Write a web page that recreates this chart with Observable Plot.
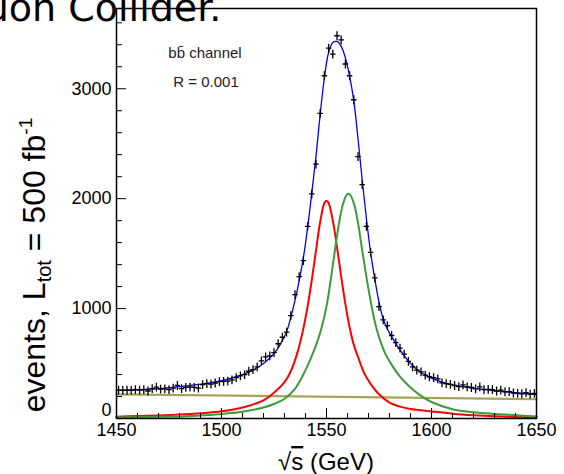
<!DOCTYPE html>
<html><head><meta charset="utf-8">
<script src="https://cdn.jsdelivr.net/npm/d3@7"></script>
<script src="https://cdn.jsdelivr.net/npm/@observablehq/plot@0.6"></script>
<style>
body{margin:0;background:#fff;}
#wrap{position:relative;width:564px;height:474px;overflow:hidden;background:#fff;}
#wrap svg{position:absolute;left:0;top:0;}
#title{position:absolute;left:-48px;top:-11px;font-family:"DejaVu Sans",sans-serif;font-size:38px;line-height:1;white-space:nowrap;color:#000;z-index:2;}
</style></head><body>
<div id="wrap"><div id="title">Muon Collider.</div></div>
<script>
// measured points (bin centres, GeV) and event counts
const dataX = [1451,1453,1455,1457,1459,1461,1463,1465,1467,1469,1471,1473,1475,1477,1479,1481,1483,1485,1487,1489,
1491,1493,1495,1497,1499,1501,1503,1505,1507,1509,1511,1513,1515,1517,1519,1521,1523,1525,1527,1529,
1531,1533,1535,1537,1539,1541,1543,1545,1547,1549,1551,1553,1555,1557,1559,1561,1563,1565,1567,1569,
1571,1573,1575,1577,1579,1581,1583,1585,1587,1589,1591,1593,1595,1597,1599,1601,1603,1605,1607,1609,
1611,1613,1615,1617,1619,1621,1623,1625,1627,1629,1631,1633,1635,1637,1639,1641,1643,1645,1647,1649];
const dataY = [258,255,257,256,262,258,262,250,272,285,268,270,262,276,300,272,283,286,283,276,
308,318,313,323,335,338,340,352,372,388,400,430,445,470,525,560,570,600,680,739,
785,936,1127,1291,1436,1748,2043,2315,2775,3118,3370,3315,3482,3445,3225,3118,2900,2382,2127,1748,
1512,1279,1018,897,845,755,690,640,585,520,470,440,425,395,380,372,360,325,318,310,
300,290,305,288,282,270,288,262,265,262,250,258,242,245,232,228,225,235,222,228];

// fitted total (blue)
const totalX = [1450,1460,1470,1480,1490,1500,1505,1510,1515,1520,1525,1528,1531,1533,1535,1537,1539,1541,1543,1545,1547,1549,1551,1553,1555,1557,1559,1561,1563,1565,1567,1569,1571,1573,1575,1577,1579,1581,1585,1590,1595,1600,1605,1610,1620,1630,1640,1650];
const totalY = [255,262,272,290,312,345,370,400,440,500,590,675,790,920,1075,1255,1465,1735,2055,2385,2770,3100,3330,3420,3430,3385,3280,3115,2890,2545,2170,1820,1510,1270,1060,905,815,745,625,500,418,368,332,306,276,254,235,218];

// first resonance (red)
const redX = [1450,1460,1470,1480,1490,1500,1510,1520,1525,1530,1533,1536,1539,1541,1543,1545,1547,1549,1550,1551,1553,1555,1557,1559,1561,1563,1565,1568,1571,1575,1580,1585,1590,1600,1610,1620,1630,1640,1650];
const redY = [17,22,28,36,48,65,100,165,235,330,430,590,820,1020,1260,1530,1790,1960,1982,1960,1800,1560,1290,1040,830,670,560,410,315,220,145,108,86,64,44,30,20,14,10];

// second resonance (green)
const greenX = [1450,1460,1470,1480,1490,1500,1510,1520,1525,1530,1535,1540,1543,1546,1548,1550,1552,1554,1556,1558,1560,1561,1563,1565,1567,1569,1571,1573,1575,1578,1581,1585,1589,1594,1600,1610,1620,1630,1640,1650];
const greenY = [10,12,15,19,27,42,62,100,132,180,270,440,570,720,850,1020,1260,1530,1780,1960,2043,2040,1960,1780,1530,1290,1070,880,740,590,490,380,300,220,150,85,57,42,30,18];

// background (olive)
const bkgX = [1450,1650];
const bkgY = [220,175];

// axis ticks
const xMajor = [1450,1500,1550,1600,1650];
const xMinor = [1460,1470,1480,1490,1510,1520,1530,1540,1560,1570,1580,1590,1610,1620,1630,1640];
const yMajor = [0,1000,2000,3000];
const yMinor = [200,400,600,800,1200,1400,1600,1800,2200,2400,2600,2800,3200,3400,3600];
const yLabels = [1000,2000,3000];
const yZeroLabel = [0];

const pts = dataX.map((x,i)=>({x, y:dataY[i]}));
const tot = totalX.map((x,i)=>({x, y:totalY[i]}));
const red = redX.map((x,i)=>({x, y:redY[i]}));
const grn = greenX.map((x,i)=>({x, y:greenY[i]}));
const bkg = bkgX.map((x,i)=>({x, y:bkgY[i]}));

const cross = {draw(ctx, size){ const r = Math.sqrt(size/Math.PI); ctx.moveTo(-r*0.62,0); ctx.lineTo(r*0.62,0); ctx.moveTo(0,-r); ctx.lineTo(0,r); }};

const font = "'Liberation Sans', Arial, Helvetica, sans-serif";
const W=564, H=474, mL=116, mR=28, mT=8, mB=56;
const fw = W-mL-mR, fh = H-mT-mB;

const chart = Plot.plot({
  width: W, height: H, marginLeft: mL, marginRight: mR, marginTop: mT, marginBottom: mB,
  style: {fontFamily: font, background: "transparent", color: "black"},
  x: {domain: [1450,1650]},
  y: {domain: [0,3730]},
  marks: [
    Plot.line(bkg, {x:"x", y:"y", stroke:"#a6a45a", strokeWidth:2.2}),
    Plot.line(red, {x:"x", y:"y", stroke:"#ff0000", strokeWidth:2, curve:"catmull-rom"}),
    Plot.line(grn, {x:"x", y:"y", stroke:"#3c9c3c", strokeWidth:2, curve:"catmull-rom"}),
    Plot.line(tot, {x:"x", y:"y", stroke:"#0000ff", strokeWidth:1.3, curve:"catmull-rom"}),
    Plot.dot(pts, {x:"x", y:"y", symbol: cross, r:4.4, stroke:"black", fill:"none", strokeWidth:1.3}),
    Plot.tickX(xMajor, {x: d=>d, insetTop: fh-10, stroke:"black", strokeWidth:1}),
    Plot.tickX(xMinor, {x: d=>d, insetTop: fh-5, stroke:"black", strokeWidth:1}),
    Plot.tickY(yMajor, {y: d=>d, insetRight: fw-10, stroke:"black", strokeWidth:1}),
    Plot.tickY(yMinor, {y: d=>d, insetRight: fw-6, stroke:"black", strokeWidth:1}),
    Plot.frame({stroke:"black", strokeWidth:1.5}),
    Plot.axisX({ticks: xMajor, tickSize: 0, tickPadding: 5, fontSize: 18, tickFormat: d=>String(d), label: null}),
    Plot.axisY({ticks: yLabels, tickSize: 0, tickPadding: 5, fontSize: 18, tickFormat: d=>String(d), label: null}),
    Plot.text(yZeroLabel, {x: ()=>1450, y: d=>d, text: d=>String(d), dx: -5, dy: -8, textAnchor: "end", fontSize: 18})
  ]
});
document.getElementById("wrap").appendChild(chart);

const svg = d3.select(chart);
// y axis title
const yt = svg.append("text").attr("transform","translate(45,265) rotate(-90)")
  .attr("text-anchor","middle").attr("font-size",32).attr("font-family",font).attr("fill","black");
yt.append("tspan").text("events, L");
yt.append("tspan").attr("font-size",20).attr("dy",6).text("tot");
yt.append("tspan").attr("dy",-6).text(" = 500 fb");
yt.append("tspan").attr("font-size",19).attr("dy",-13).text("-1");

// x axis title
const xt = svg.append("text").attr("x",326).attr("y",470).attr("text-anchor","middle")
  .attr("font-size",24).attr("font-family",font).attr("fill","black");
xt.append("tspan").text("\u221A");
xt.append("tspan").style("text-decoration","overline").text("s");
xt.append("tspan").text(" (GeV)");

// annotation
const a1 = svg.append("text").attr("x",205).attr("y",58).attr("text-anchor","middle")
  .attr("font-size",15).attr("font-family",font).attr("fill","#222");
a1.append("tspan").text("b");
a1.append("tspan").text("b\u0304");
a1.append("tspan").text(" channel");
svg.append("text").attr("x",206).attr("y",87).attr("text-anchor","middle")
  .attr("font-size",15).attr("font-family",font).attr("fill","#222").text("R = 0.001");
</script>
</body></html>
